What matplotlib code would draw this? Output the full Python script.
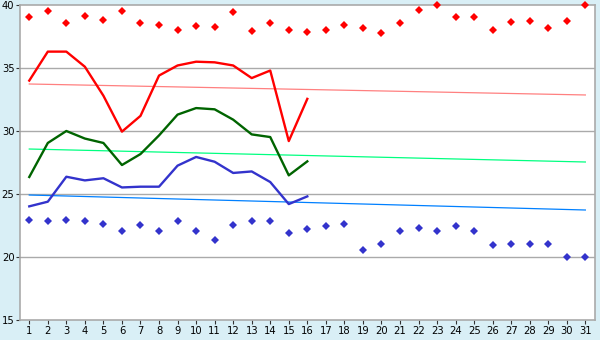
import matplotlib
matplotlib.use("Agg")
import matplotlib.pyplot as plt

days = list(range(1, 32))
days_now = list(range(1, 17))

# record highs / lows (dots)
rec_max = [39.05, 39.52, 38.57, 39.13, 38.81, 39.52, 38.57, 38.41, 38.01, 38.33,
           38.25, 39.44, 37.94, 38.57, 38.01, 37.86, 38.01, 38.41, 38.17, 37.78,
           38.57, 39.6, 40.0, 39.05, 39.05, 38.01, 38.65, 38.73, 38.17, 38.73, 40.0]
rec_min = [22.94, 22.86, 22.94, 22.86, 22.62, 22.06, 22.54, 22.06, 22.86, 22.06,
           21.35, 22.54, 22.86, 22.86, 21.9, 22.22, 22.46, 22.62, 20.56, 21.03,
           22.06, 22.3, 22.06, 22.46, 22.06, 20.95, 21.03, 21.03, 21.03, 20.0, 20.0]

# this month's values
t_max = [34.0, 36.3, 36.3, 35.1, 32.8, 29.95, 31.2, 34.4, 35.2, 35.5,
         35.45, 35.2, 34.2, 34.8, 29.2, 32.55]
t_avg = [26.35, 29.05, 30.0, 29.4, 29.05, 27.3, 28.17, 29.65, 31.3, 31.82,
         31.72, 30.9, 29.73, 29.52, 26.48, 27.59]
t_min = [24.02, 24.39, 26.37, 26.08, 26.25, 25.52, 25.58, 25.58, 27.25, 27.94,
         27.56, 26.67, 26.79, 25.95, 24.2, 24.81]

# normals (start / end of month)
trend_days = [1, 31]
norm_max = [33.73, 32.86]
norm_avg = [28.57, 27.54]
norm_min = [24.92, 23.73]

fig = plt.figure(figsize=(6, 3.4), dpi=100, facecolor="#d9eff6")
ax = fig.add_axes([20 / 600, 20 / 340, 575 / 600, 315 / 340])
ax.set_facecolor("white")

for y in [20, 25, 30, 35]:
    ax.axhline(y, color="#aaaaaa", lw=1.0, zorder=1)

ax.plot(trend_days, norm_max, color="#ff8080", lw=0.9, zorder=2)
ax.plot(trend_days, norm_avg, color="#00ff80", lw=0.9, zorder=2)
ax.plot(trend_days, norm_min, color="#0080ff", lw=0.9, zorder=2)

ax.plot(days_now, t_max, color="#ff0000", lw=1.7, zorder=3)
ax.plot(days_now, t_avg, color="#006400", lw=1.7, zorder=3)
ax.plot(days_now, t_min, color="#3333cc", lw=1.7, zorder=3)

ax.plot(days, rec_max, ls="none", marker="D", ms=4.2, color="#ff0000",
        mew=0, zorder=4, clip_on=False)
ax.plot(days, rec_min, ls="none", marker="D", ms=4.2, color="#3333cc",
        mew=0, zorder=4, clip_on=False)

ax.set_xlim(0.5, 31.52)
ax.set_ylim(15, 40)
ax.set_xticks(days)
ax.set_yticks([15, 20, 25, 30, 35, 40])
ax.tick_params(axis="both", labelsize=7.2, color="#333333", length=3,
               direction="out", pad=1)
for s in ax.spines.values():
    s.set_color("#aaaaaa")
    s.set_linewidth(1.2)

fig.savefig("out.png", dpi=100, facecolor=fig.get_facecolor())
